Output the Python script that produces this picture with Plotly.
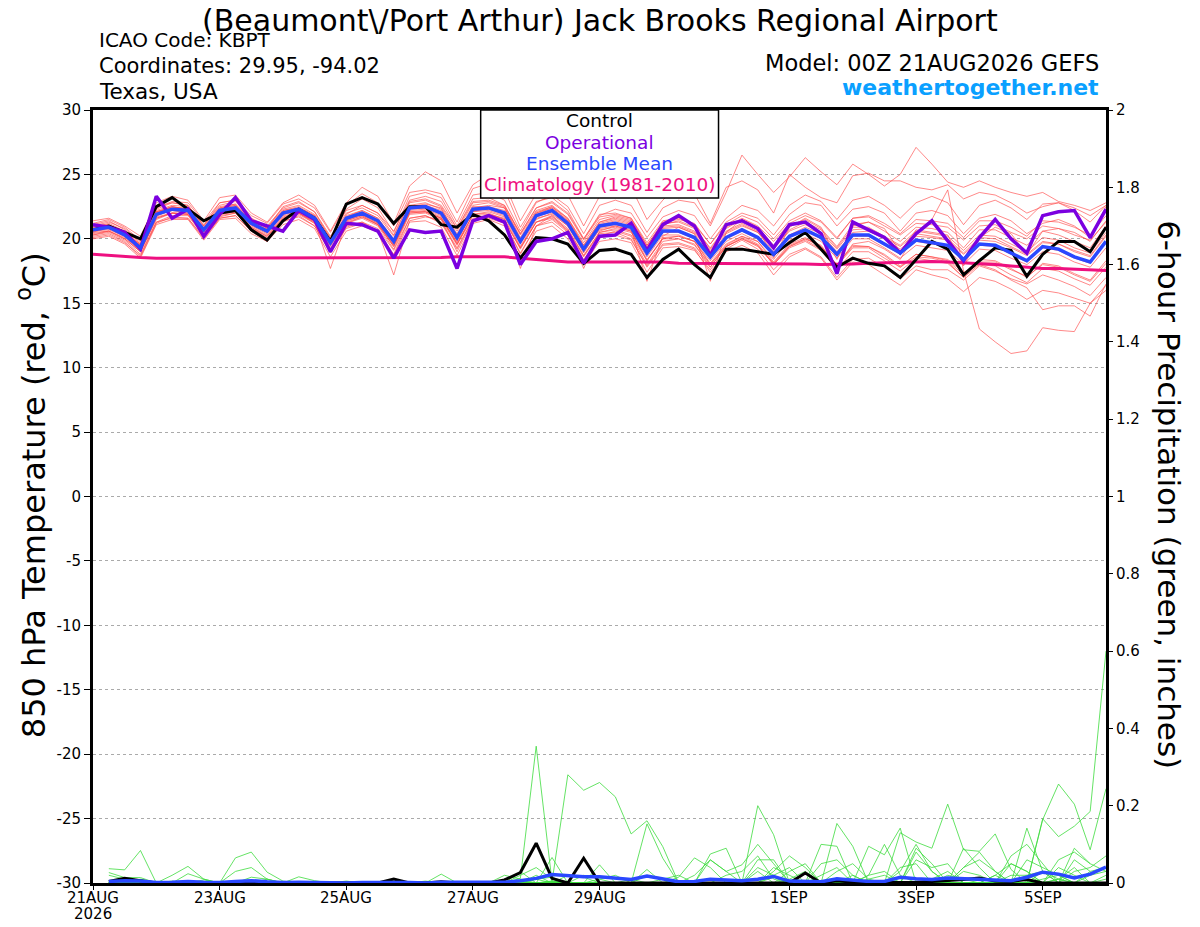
import pandas as pd
import plotly.graph_objects as go

# 6-hourly GEFS steps, 21 Aug 00Z -> 6 Sep 00Z
times = pd.date_range("2026-08-21 00:00", periods=65, freq="6h")

# 850 hPa temperature (C)
control_t = [20.7, 21.0, 20.5, 20.0, 22.5, 23.2, 22.3, 21.4, 22.0, 22.2, 20.7, 19.9, 21.4, 22.3, 21.6, 19.8, 22.7, 23.2, 22.7, 21.2, 22.5, 22.5,
             21.1, 20.9, 21.9, 21.4, 20.3, 18.5, 20.1, 20.0, 19.6, 18.1, 19.1, 19.2, 18.8, 17.0, 18.4, 19.2, 18.0, 17.0, 19.2, 19.2, 19.0, 18.8,
             19.7, 20.5, 19.2, 17.8, 18.5, 18.1, 17.9, 17.0, 18.4, 19.8, 19.2, 17.2, 18.3, 19.3, 19.1, 17.1, 18.8, 19.8, 19.8, 19.0, 20.9]
oper_t = [21.1, 20.9, 20.5, 19.2, 23.3, 21.6, 22.3, 20.2, 21.9, 23.2, 21.4, 21.0, 20.6, 22.2, 21.5, 19.0, 21.2, 21.1, 20.6, 18.5, 20.7, 20.5,
          20.6, 17.7, 21.4, 21.8, 21.3, 18.0, 19.8, 20.0, 20.5, 18.1, 20.2, 20.3, 21.2, 19.1, 21.1, 21.8, 21.0, 18.7, 21.1, 21.4, 20.8, 19.3,
          21.1, 21.3, 20.4, 17.3, 21.3, 20.7, 20.1, 18.9, 20.4, 21.4, 19.8, 18.3, 20.1, 21.5, 20.0, 18.9, 21.8, 22.1, 22.2, 20.1, 22.3]
mean_t = [20.7, 20.9, 20.3, 19.3, 21.9, 22.3, 22.2, 20.7, 22.2, 22.4, 21.2, 20.6, 22.0, 22.3, 21.6, 19.7, 21.6, 22.0, 21.4, 19.8, 22.4, 22.5,
          22.0, 20.1, 22.3, 22.4, 22.0, 19.8, 21.8, 22.2, 21.2, 19.2, 21.0, 21.2, 20.9, 18.9, 20.6, 20.6, 20.1, 18.6, 20.1, 20.7, 20.1, 18.8,
          20.2, 20.7, 20.1, 18.8, 20.3, 20.3, 19.6, 18.9, 19.9, 19.7, 19.5, 18.4, 19.6, 19.5, 18.9, 18.3, 19.4, 19.2, 18.6, 18.2, 19.8]
clim_t = [18.8, 18.7, 18.6, 18.55, 18.5, 18.5, 18.5, 18.5, 18.5, 18.5, 18.5, 18.5, 18.5, 18.5, 18.5, 18.5, 18.5, 18.5, 18.5, 18.5, 18.5, 18.5,
          18.55, 18.6, 18.6, 18.6, 18.6, 18.5, 18.4, 18.3, 18.2, 18.2, 18.2, 18.2, 18.2, 18.2, 18.2, 18.1, 18.1, 18.1, 18.1, 18.1, 18.1, 18.1,
          18.1, 18.05, 18.0, 18.0, 18.05, 18.1, 18.15, 18.2, 18.25, 18.25, 18.2, 18.15, 18.05, 18.0, 17.9, 17.8, 17.7, 17.7, 17.65, 17.6, 17.55]

members_t = [
    [21.0, 21.3, 20.8, 19.8, 22.5, 22.8, 22.6, 21.0, 22.8, 23.0, 21.6, 20.8, 22.5, 22.9, 22.1, 20.0, 22.3, 23.1, 22.4, 20.5, 23.3, 23.6,
     23.2, 21.0, 23.4, 23.6, 23.0, 20.6, 22.8, 23.4, 22.5, 20.4, 22.6, 23.0, 22.6, 20.5, 22.4, 23.0, 22.8, 21.0, 23.6, 26.5, 25.0, 23.6,
     24.8, 26.3, 25.2, 24.2, 25.8, 25.0, 24.1, 25.0, 27.1, 25.8, 24.4, 24.0, 24.5, 24.0, 23.6, 23.3, 23.6, 22.9, 22.6, 22.2, 22.8],
    [21.4, 21.6, 21.0, 20.2, 22.8, 23.3, 23.0, 21.4, 23.2, 23.4, 22.0, 21.3, 22.8, 23.4, 22.6, 20.6, 22.8, 24.0, 23.3, 21.2, 24.1, 25.2,
     24.5, 22.0, 24.2, 25.0, 24.3, 21.4, 23.5, 24.6, 23.4, 21.0, 23.3, 24.5, 24.0, 21.5, 23.0, 24.2, 23.5, 21.2, 24.0, 24.5, 23.8, 22.0,
     25.0, 24.0, 23.2, 22.8, 24.9, 25.1, 24.5, 24.5, 24.0, 23.8, 24.2, 23.1, 23.6, 23.4, 22.8, 22.0, 22.5, 22.8, 22.4, 21.8, 22.6],
    [20.2, 20.4, 19.8, 18.6, 21.2, 21.7, 21.6, 20.0, 21.6, 21.8, 20.6, 19.8, 21.3, 21.8, 21.0, 18.9, 21.0, 21.3, 20.6, 18.8, 21.6, 21.8,
     21.2, 19.2, 21.5, 21.8, 21.2, 18.8, 21.0, 21.5, 20.5, 18.3, 20.2, 20.6, 20.2, 18.0, 19.8, 20.0, 19.6, 17.8, 19.4, 20.0, 19.5, 18.0,
     19.4, 20.0, 19.5, 17.9, 19.6, 19.8, 19.2, 18.4, 20.5, 21.5, 23.8, 17.5, 13.0, 12.0, 11.1, 11.3, 13.1, 12.9, 12.8, 15.0, 16.0],
    [20.5, 20.6, 20.0, 19.0, 21.5, 22.0, 21.9, 20.3, 21.9, 22.1, 20.9, 20.2, 21.6, 22.0, 21.2, 19.2, 21.2, 21.6, 21.0, 19.2, 21.9, 22.0,
     21.5, 19.5, 21.9, 22.0, 21.5, 19.2, 21.3, 21.8, 20.8, 18.7, 20.5, 20.8, 20.5, 18.4, 20.0, 20.2, 19.8, 18.1, 19.6, 20.2, 19.8, 18.2,
     19.6, 20.1, 19.4, 18.0, 19.5, 19.4, 18.8, 17.9, 18.8, 18.6, 18.4, 17.4, 18.0, 17.6, 16.8, 16.2, 14.5, 14.8, 14.8, 14.0, 16.5],
    [20.9, 21.2, 20.6, 19.6, 22.2, 22.6, 22.5, 21.0, 22.5, 22.7, 21.5, 20.9, 22.3, 22.6, 21.9, 20.1, 22.0, 22.4, 21.8, 20.2, 22.8, 23.0,
     22.5, 20.6, 22.8, 22.9, 22.5, 20.3, 22.2, 22.6, 21.6, 19.7, 21.5, 21.8, 21.5, 19.5, 21.2, 21.3, 20.8, 19.3, 20.9, 21.6, 21.0, 19.8,
     21.2, 21.8, 21.3, 20.0, 21.6, 21.8, 21.2, 20.4, 21.5, 21.4, 21.2, 20.1, 21.4, 21.4, 20.9, 20.2, 21.4, 21.3, 20.9, 20.3, 21.8],
    [20.4, 20.6, 20.1, 19.1, 21.6, 22.0, 21.9, 20.4, 21.9, 22.1, 20.9, 20.3, 21.7, 22.0, 21.3, 19.4, 21.3, 21.7, 21.1, 19.5, 22.0, 22.1,
     21.6, 19.7, 21.8, 21.9, 21.5, 19.3, 21.3, 21.7, 20.7, 18.7, 20.5, 20.7, 20.3, 18.3, 20.0, 20.0, 19.5, 18.0, 19.4, 20.0, 19.4, 18.1,
     19.4, 19.9, 19.2, 17.9, 19.3, 19.3, 18.5, 17.8, 18.8, 18.6, 18.3, 17.2, 18.4, 18.3, 17.7, 17.0, 18.1, 17.9, 17.3, 16.8, 18.3],
    [20.8, 21.0, 20.4, 19.4, 22.0, 22.4, 22.4, 20.9, 22.4, 22.6, 21.4, 20.8, 22.2, 22.5, 21.8, 19.9, 21.8, 22.2, 21.6, 20.0, 22.6, 22.8,
     22.3, 20.4, 22.6, 22.8, 22.4, 20.1, 22.1, 22.5, 21.5, 19.5, 21.3, 21.6, 21.3, 19.3, 21.0, 21.1, 20.6, 19.1, 20.6, 21.2, 20.6, 19.3,
     20.7, 21.3, 20.7, 19.3, 20.9, 20.9, 20.2, 19.5, 20.6, 20.4, 20.2, 19.1, 20.3, 20.2, 19.6, 19.0, 20.1, 19.9, 19.3, 18.9, 20.5],
    [20.6, 20.8, 20.2, 19.2, 21.8, 22.2, 22.1, 20.6, 22.1, 22.3, 21.1, 20.5, 21.9, 22.2, 21.5, 19.6, 21.5, 21.9, 21.3, 19.7, 22.3, 22.4,
     21.9, 20.0, 22.2, 22.3, 21.9, 19.7, 21.7, 22.1, 21.1, 19.1, 20.9, 21.1, 20.8, 18.8, 20.5, 20.5, 20.0, 18.5, 20.0, 20.6, 20.0, 18.7,
     20.1, 20.6, 20.0, 18.7, 20.2, 20.2, 19.5, 18.8, 19.8, 19.6, 19.4, 18.3, 19.5, 19.4, 18.8, 18.2, 19.3, 19.1, 18.5, 18.1, 19.7],
    [20.3, 20.5, 19.9, 18.8, 21.3, 21.8, 21.8, 20.2, 21.7, 22.0, 20.8, 20.1, 21.5, 21.9, 21.2, 19.0, 20.8, 21.2, 20.6, 17.2, 21.4, 21.7,
     21.5, 19.0, 21.4, 21.9, 21.6, 17.7, 21.0, 21.8, 20.6, 17.7, 20.6, 21.0, 20.7, 16.7, 20.2, 20.9, 20.4, 16.7, 20.5, 21.5, 20.8, 18.5,
     20.9, 21.6, 20.9, 18.4, 21.0, 21.3, 20.8, 19.0, 20.7, 20.5, 20.3, 17.9, 20.1, 20.9, 20.4, 18.8, 20.6, 20.8, 20.5, 19.8, 21.4],
    [21.2, 21.5, 20.9, 19.9, 22.4, 22.9, 22.8, 21.3, 22.8, 23.0, 21.8, 21.2, 22.7, 23.1, 22.4, 20.5, 22.6, 23.5, 22.8, 21.0, 23.6, 23.8,
     23.5, 21.3, 23.9, 24.3, 23.8, 20.9, 22.9, 23.2, 22.2, 20.0, 21.9, 22.0, 21.6, 19.5, 21.3, 21.5, 21.2, 19.6, 21.3, 22.0, 21.6, 20.3,
     21.9, 22.8, 22.6, 21.0, 22.3, 22.5, 22.0, 20.6, 22.0, 22.2, 21.8, 20.4, 21.6, 21.9, 21.4, 20.4, 21.2, 21.5, 21.0, 20.1, 22.5],
    [20.0, 20.2, 19.6, 18.5, 21.1, 21.5, 21.5, 19.9, 21.5, 21.6, 20.4, 19.8, 21.1, 21.5, 20.8, 18.6, 20.6, 21.0, 20.5, 18.7, 21.3, 21.4,
     20.9, 18.7, 21.2, 21.5, 21.0, 18.5, 20.6, 21.0, 20.0, 18.0, 19.8, 20.0, 19.7, 17.4, 19.3, 19.4, 19.1, 17.6, 19.2, 19.9, 19.2, 17.6,
     18.8, 19.3, 18.6, 17.0, 18.4, 18.5, 17.8, 16.9, 17.9, 17.6, 17.6, 16.8, 17.9, 17.5, 16.9, 16.5, 17.2, 16.8, 16.3, 15.6, 17.0],
    [20.9, 21.1, 20.5, 19.5, 22.1, 22.5, 22.3, 20.8, 22.4, 22.7, 21.3, 20.7, 22.1, 22.4, 21.7, 19.8, 21.9, 22.6, 22.0, 20.6, 23.0, 23.3,
     22.9, 20.8, 23.1, 23.2, 22.6, 20.4, 22.4, 22.9, 22.0, 20.0, 21.8, 22.3, 22.0, 20.1, 21.7, 22.2, 21.8, 20.0, 21.6, 22.6, 22.2, 21.0,
     22.6, 23.4, 22.9, 21.5, 23.0, 23.3, 22.6, 21.6, 22.8, 23.3, 22.8, 21.1, 22.6, 23.0, 22.4, 21.5, 22.7, 22.8, 22.2, 21.3, 22.6],
    [20.6, 20.7, 20.2, 19.0, 21.7, 22.0, 22.0, 20.5, 22.0, 22.1, 21.0, 20.4, 21.8, 22.0, 21.4, 19.5, 21.4, 21.8, 21.2, 19.5, 22.1, 22.1,
     21.6, 19.6, 21.9, 22.1, 21.7, 19.4, 21.5, 22.0, 21.0, 18.9, 20.8, 21.0, 20.6, 18.3, 20.1, 20.2, 19.8, 18.0, 19.5, 20.2, 19.6, 18.1,
     19.5, 20.0, 19.4, 18.0, 19.4, 19.4, 18.7, 17.8, 18.6, 18.5, 18.2, 17.0, 18.0, 17.9, 17.2, 16.6, 17.7, 17.5, 16.9, 16.4, 17.8],
    [21.0, 21.1, 20.4, 19.6, 22.1, 22.4, 22.3, 20.8, 22.3, 22.5, 21.4, 20.7, 22.2, 22.4, 21.7, 19.8, 21.7, 22.1, 21.5, 19.9, 22.5, 22.6,
     22.2, 20.3, 22.5, 22.5, 22.2, 19.9, 22.0, 22.4, 21.4, 19.4, 21.2, 21.5, 21.2, 19.2, 20.9, 21.0, 20.5, 19.0, 20.5, 21.1, 20.5, 19.2,
     20.6, 21.1, 20.5, 19.2, 20.7, 20.8, 20.1, 19.4, 20.4, 20.2, 20.0, 18.9, 20.1, 20.0, 19.4, 18.8, 19.8, 19.6, 19.0, 18.6, 20.2],
    [20.5, 20.9, 20.3, 19.2, 22.0, 22.5, 22.2, 20.6, 22.3, 22.6, 21.3, 20.6, 22.0, 22.4, 21.8, 19.8, 21.7, 22.2, 21.6, 19.9, 22.5, 22.7,
     22.4, 20.2, 22.4, 22.6, 22.4, 20.0, 22.0, 22.5, 21.6, 19.5, 21.3, 21.7, 21.4, 19.4, 21.1, 21.4, 20.9, 19.2, 20.8, 21.5, 20.9, 19.5,
     21.0, 21.5, 20.8, 19.4, 21.1, 21.3, 20.6, 19.8, 20.9, 20.8, 20.5, 19.3, 20.7, 20.7, 20.1, 19.5, 20.6, 20.3, 19.8, 19.3, 21.0],
    [20.3, 20.6, 20.0, 19.0, 21.6, 22.0, 21.9, 20.3, 21.8, 22.0, 20.8, 20.2, 21.6, 22.0, 21.3, 17.7, 21.2, 21.7, 21.1, 19.4, 22.1, 22.2,
     21.7, 19.6, 21.6, 21.7, 21.3, 19.3, 21.3, 21.6, 20.6, 18.6, 20.4, 20.5, 20.0, 17.8, 19.5, 19.6, 19.2, 17.4, 19.0, 19.5, 18.9, 17.2,
     18.6, 19.2, 18.5, 16.8, 18.2, 18.0, 17.2, 16.4, 17.6, 17.2, 16.9, 15.9, 17.0, 16.7, 16.1, 15.3, 16.0, 15.8, 15.4, 15.0, 16.4],
    [21.1, 21.4, 20.7, 19.7, 22.3, 22.8, 22.6, 21.1, 22.6, 22.9, 21.6, 21.0, 22.4, 22.8, 22.1, 20.2, 22.2, 22.6, 22.0, 20.3, 22.9, 23.1,
     22.6, 20.8, 22.9, 23.0, 22.6, 20.4, 22.4, 22.8, 21.9, 19.9, 21.7, 21.9, 21.6, 19.7, 21.4, 21.6, 21.1, 19.6, 21.1, 21.8, 21.3, 20.0,
     21.4, 22.0, 21.4, 20.1, 21.6, 21.7, 21.0, 20.3, 21.2, 21.1, 20.9, 19.9, 21.0, 21.1, 20.5, 20.0, 21.0, 20.8, 20.3, 19.9, 21.3],
    [20.1, 20.3, 19.7, 18.7, 21.3, 21.6, 21.6, 20.1, 21.6, 21.8, 20.6, 20.0, 21.4, 21.7, 21.0, 19.0, 20.9, 21.3, 20.8, 19.1, 21.6, 21.8,
     21.3, 19.3, 21.5, 21.6, 21.2, 18.9, 21.0, 21.3, 20.3, 18.4, 20.1, 20.3, 19.9, 17.9, 19.6, 19.7, 19.3, 17.8, 19.4, 20.1, 19.5, 18.0,
     19.3, 19.8, 19.1, 17.6, 19.0, 19.0, 18.3, 17.5, 18.5, 18.3, 18.1, 17.0, 18.2, 18.2, 17.6, 17.1, 18.0, 17.8, 17.2, 16.7, 18.1],
    [20.8, 21.0, 20.5, 19.5, 22.1, 22.5, 22.3, 20.7, 22.3, 22.4, 21.1, 20.5, 22.0, 22.2, 21.5, 19.6, 21.4, 21.8, 21.1, 19.4, 22.0, 22.1,
     21.6, 19.8, 22.1, 22.4, 22.1, 19.7, 21.9, 22.4, 21.4, 19.2, 21.1, 21.4, 21.1, 19.0, 20.8, 20.9, 20.4, 18.7, 20.4, 21.0, 20.5, 19.0,
     20.3, 20.9, 20.4, 19.0, 20.5, 20.6, 20.0, 19.2, 20.2, 20.1, 19.9, 18.8, 19.9, 19.8, 19.3, 18.7, 19.7, 19.6, 19.1, 18.7, 20.3],
    [20.6, 21.0, 20.4, 19.3, 21.8, 22.2, 22.0, 20.5, 22.0, 22.3, 21.1, 20.5, 21.9, 22.1, 21.4, 19.5, 21.5, 21.9, 21.2, 19.6, 22.2, 22.3,
     21.8, 19.9, 22.1, 22.2, 21.8, 19.6, 21.6, 21.9, 21.0, 19.0, 20.7, 20.9, 20.6, 18.6, 20.3, 20.3, 19.8, 18.3, 19.8, 20.4, 19.8, 18.4,
     19.9, 20.4, 19.8, 18.5, 20.0, 20.0, 19.3, 18.5, 19.5, 19.3, 19.1, 18.0, 19.2, 19.1, 18.5, 18.0, 19.0, 18.8, 18.2, 17.8, 19.3],
]

# 6-hour precipitation (inches), steps 21 Aug 06Z -> 6 Sep 00Z
control_p = [0.004, 0.012, 0.006, 0, 0, 0, 0, 0, 0, 0, 0, 0, 0, 0, 0, 0, 0, 0, 0.01, 0, 0, 0.003, 0, 0, 0, 0.008, 0.027, 0.103, 0.012, 0, 0.064, 0,
             0, 0, 0, 0, 0, 0, 0, 0, 0, 0, 0, 0, 0.026, 0, 0.006, 0.002, 0.001, 0.001, 0.002, 0.002, 0.004, 0.006, 0.009, 0.013, 0.005, 0.004, 0.009, 0, 0, 0, 0, 0]
mean_p = [0.004, 0.006, 0.005, 0.001, 0.002, 0.004, 0.002, 0.001, 0.004, 0.006, 0.003, 0.001, 0.002, 0.001, 0, 0, 0.001, 0, 0.001, 0.001, 0, 0.002, 0.002, 0.001, 0, 0.002, 0.006, 0.012, 0.022, 0.018, 0.016, 0.016,
          0.013, 0.009, 0.018, 0.01, 0.003, 0.004, 0.01, 0.008, 0.006, 0.01, 0.017, 0.005, 0.004, 0.003, 0.011, 0.007, 0.004, 0.004, 0.015, 0.011, 0.009, 0.013, 0.011, 0.009, 0.006, 0.006, 0.015, 0.028, 0.023, 0.013, 0.023, 0.041]

members_p = [
    [0.037, 0.034, 0.084, 0, 0, 0, 0, 0, 0, 0, 0, 0, 0, 0, 0, 0, 0, 0, 0, 0, 0, 0, 0, 0, 0, 0, 0, 0, 0.005, 0, 0, 0,
     0, 0, 0, 0, 0, 0, 0, 0, 0, 0.06, 0.06, 0, 0, 0.10, 0.095, 0, 0, 0, 0, 0, 0, 0, 0, 0, 0, 0, 0.142, 0.03, 0, 0, 0],
    [0.027, 0.014, 0.014, 0, 0, 0, 0, 0, 0, 0, 0, 0, 0, 0, 0, 0, 0, 0, 0, 0, 0, 0, 0, 0, 0, 0, 0.012, 0.354, 0.003, 0, 0, 0,
     0, 0, 0, 0, 0, 0, 0, 0, 0, 0, 0, 0, 0, 0, 0, 0, 0, 0, 0.13, 0.106, 0.09, 0.204, 0.086, 0.082, 0.127, 0.035, 0, 0, 0, 0, 0, 0],
    [0, 0, 0, 0, 0.02, 0.043, 0.01, 0, 0, 0, 0, 0, 0, 0, 0, 0, 0, 0, 0, 0, 0, 0, 0, 0, 0, 0, 0, 0, 0.003, 0.28, 0.24, 0.26,
     0.223, 0.127, 0.161, 0.094, 0, 0, 0, 0, 0, 0, 0, 0, 0, 0, 0, 0, 0, 0, 0, 0, 0, 0, 0, 0, 0, 0, 0, 0.164, 0.256, 0.204, 0.086, 0.244, 0.172],
    [0, 0, 0, 0, 0, 0.024, 0.01, 0, 0.065, 0.08, 0.028, 0.005, 0, 0, 0, 0, 0, 0, 0, 0, 0, 0, 0, 0, 0, 0, 0, 0, 0, 0, 0, 0,
     0, 0, 0.153, 0.064, 0, 0, 0, 0, 0, 0, 0, 0, 0, 0, 0, 0, 0, 0, 0, 0, 0, 0, 0, 0, 0, 0, 0, 0.166, 0.12, 0.147, 0.185, 0.60],
    [0, 0, 0, 0, 0, 0, 0, 0, 0, 0, 0, 0, 0.016, 0.006, 0, 0, 0, 0, 0, 0, 0, 0, 0, 0, 0, 0, 0, 0, 0.066, 0, 0, 0.047,
     0, 0, 0, 0, 0, 0, 0.075, 0.09, 0, 0, 0, 0, 0, 0, 0, 0, 0.095, 0.073, 0.142, 0, 0, 0, 0, 0, 0, 0, 0, 0, 0, 0, 0, 0],
    [0, 0, 0, 0, 0, 0, 0, 0, 0, 0, 0, 0, 0, 0, 0, 0, 0, 0, 0, 0, 0, 0.023, 0, 0, 0, 0, 0.03, 0, 0, 0, 0, 0,
     0, 0, 0, 0, 0, 0, 0, 0, 0, 0.2, 0.125, 0, 0, 0, 0.154, 0.095, 0, 0, 0, 0, 0, 0, 0, 0, 0, 0, 0, 0, 0, 0, 0, 0],
    [0, 0, 0, 0, 0, 0, 0, 0, 0.03, 0.04, 0.01, 0, 0, 0, 0, 0, 0, 0, 0, 0, 0, 0, 0, 0, 0, 0, 0, 0, 0, 0, 0, 0,
     0, 0, 0.035, 0, 0, 0, 0.06, 0.03, 0.047, 0.1, 0.05, 0, 0, 0, 0, 0, 0, 0, 0, 0, 0, 0, 0.04, 0.06, 0.03, 0, 0, 0, 0, 0, 0, 0],
    [0, 0, 0.01, 0, 0, 0, 0, 0, 0, 0, 0, 0, 0, 0, 0, 0, 0, 0, 0, 0, 0, 0, 0, 0, 0, 0.01, 0, 0, 0, 0.02, 0.015, 0,
     0, 0, 0, 0, 0, 0, 0, 0, 0, 0, 0.04, 0.02, 0, 0, 0, 0, 0, 0, 0, 0.09, 0.05, 0, 0, 0, 0, 0.05, 0.03, 0, 0, 0.03, 0.04, 0.07],
    [0, 0, 0, 0, 0, 0, 0, 0, 0, 0, 0, 0, 0, 0, 0, 0, 0, 0, 0.005, 0, 0, 0, 0.004, 0, 0, 0, 0, 0, 0, 0, 0, 0,
     0, 0, 0, 0, 0.015, 0.065, 0.04, 0, 0, 0, 0, 0.03, 0.05, 0, 0, 0, 0, 0, 0, 0.06, 0.04, 0.05, 0, 0, 0, 0, 0, 0, 0, 0.06, 0.03],
    [0, 0, 0, 0, 0, 0, 0.008, 0, 0, 0, 0, 0, 0, 0, 0, 0, 0, 0, 0, 0, 0, 0, 0, 0, 0, 0, 0.02, 0.04, 0.01, 0, 0, 0,
     0, 0, 0, 0, 0, 0, 0, 0, 0, 0, 0.03, 0.07, 0.04, 0, 0, 0, 0.02, 0.10, 0.02, 0, 0, 0, 0, 0, 0, 0, 0.06, 0.04, 0.02, 0, 0],
    [0, 0, 0, 0, 0, 0, 0, 0, 0, 0, 0.01, 0, 0, 0, 0, 0, 0, 0, 0, 0, 0, 0, 0, 0, 0, 0, 0, 0, 0, 0, 0, 0.01,
     0.02, 0, 0, 0, 0, 0, 0, 0, 0, 0.03, 0, 0, 0, 0.05, 0.06, 0.02, 0, 0, 0, 0, 0, 0, 0.09, 0.04, 0, 0.07, 0.10, 0.05, 0, 0, 0],
    [0, 0.005, 0, 0, 0, 0, 0, 0, 0, 0, 0, 0, 0, 0, 0, 0.005, 0, 0, 0, 0, 0, 0, 0, 0, 0, 0, 0, 0.02, 0, 0, 0, 0,
     0, 0, 0, 0, 0, 0, 0, 0.02, 0.03, 0.07, 0.01, 0, 0, 0, 0, 0, 0, 0, 0, 0.08, 0.03, 0, 0, 0, 0.02, 0, 0, 0, 0.04, 0.02, 0],
    [0, 0, 0, 0, 0, 0, 0, 0, 0, 0, 0, 0, 0, 0, 0, 0, 0, 0, 0, 0, 0, 0, 0, 0, 0, 0, 0, 0, 0.005, 0, 0, 0,
     0, 0, 0.02, 0.01, 0, 0, 0, 0, 0, 0, 0.02, 0.04, 0, 0, 0.03, 0.05, 0.01, 0, 0, 0, 0, 0, 0.04, 0.08, 0.03, 0, 0, 0, 0, 0.09, 0.05],
    [0, 0, 0, 0, 0.005, 0, 0, 0, 0, 0, 0, 0, 0, 0, 0, 0, 0, 0, 0, 0, 0, 0, 0, 0, 0, 0.02, 0.01, 0, 0, 0, 0, 0,
     0, 0, 0, 0, 0, 0.02, 0.06, 0.03, 0, 0, 0, 0, 0, 0, 0, 0, 0, 0, 0.03, 0.1, 0.03, 0, 0, 0, 0, 0, 0.02, 0.03, 0, 0, 0, 0],
    [0, 0, 0, 0, 0, 0, 0, 0, 0, 0, 0, 0, 0, 0, 0, 0, 0, 0, 0, 0, 0, 0, 0, 0, 0, 0, 0, 0, 0, 0, 0, 0,
     0, 0, 0, 0, 0, 0, 0, 0, 0, 0, 0, 0, 0, 0.02, 0.04, 0, 0, 0, 0.04, 0.05, 0, 0, 0.03, 0.02, 0, 0, 0, 0, 0.06, 0.08, 0.05, 0.03],
    [0, 0, 0, 0, 0, 0, 0, 0, 0, 0, 0, 0, 0, 0, 0, 0, 0, 0, 0, 0, 0.005, 0, 0, 0, 0, 0, 0, 0, 0, 0, 0, 0,
     0, 0.01, 0, 0, 0, 0, 0, 0, 0, 0.04, 0.02, 0, 0, 0, 0, 0, 0.02, 0.03, 0, 0, 0, 0, 0, 0, 0.02, 0.05, 0.03, 0, 0, 0, 0, 0],
    [0.02, 0.01, 0, 0, 0, 0, 0, 0, 0, 0, 0, 0, 0, 0, 0, 0, 0, 0, 0, 0, 0, 0, 0, 0, 0, 0, 0, 0, 0, 0, 0, 0,
     0, 0, 0, 0.01, 0.02, 0, 0, 0, 0, 0, 0, 0.01, 0.03, 0, 0, 0, 0, 0, 0, 0, 0, 0.02, 0.01, 0, 0, 0, 0, 0, 0.01, 0.04, 0, 0.02],
    [0, 0, 0, 0, 0, 0, 0, 0, 0, 0, 0, 0, 0, 0, 0, 0, 0, 0, 0, 0, 0, 0, 0, 0, 0, 0, 0, 0.01, 0.015, 0, 0, 0,
     0, 0, 0, 0, 0, 0, 0, 0, 0, 0, 0.015, 0, 0, 0, 0, 0.02, 0, 0, 0, 0, 0.01, 0.03, 0, 0, 0, 0, 0, 0.03, 0.01, 0, 0, 0.01],
    [0, 0, 0, 0, 0, 0, 0, 0, 0, 0.015, 0.01, 0, 0, 0, 0, 0, 0, 0, 0, 0, 0, 0, 0, 0, 0, 0, 0, 0, 0, 0, 0.02, 0.01,
     0, 0, 0, 0, 0, 0, 0, 0, 0, 0, 0, 0, 0, 0, 0, 0, 0.01, 0.02, 0, 0, 0, 0, 0, 0, 0, 0.02, 0.02, 0, 0.01, 0, 0.03, 0.04],
    [0, 0, 0, 0, 0, 0, 0, 0, 0, 0, 0, 0, 0, 0, 0, 0, 0, 0, 0, 0, 0, 0, 0, 0, 0, 0, 0, 0.01, 0, 0, 0, 0,
     0, 0, 0, 0, 0, 0, 0, 0, 0, 0, 0, 0, 0, 0, 0, 0, 0, 0, 0, 0, 0, 0, 0, 0, 0, 0, 0, 0.01, 0.02, 0, 0.02, 0.03],
]

tick_dates = ["2026-08-21", "2026-08-23", "2026-08-25", "2026-08-27", "2026-08-29", "2026-09-01", "2026-09-03", "2026-09-05"]
tick_text = ["21AUG", "23AUG", "25AUG", "27AUG", "29AUG", "1SEP", "3SEP", "5SEP"]
temp_ticks = [-30, -25, -20, -15, -10, -5, 0, 5, 10, 15, 20, 25, 30]
temp_tick_text = ["-30", "-25", "-20", "-15", "-10", "-5", "0", "5", "10", "15", "20", "25", "30"]

FONT = "DejaVu Sans"
RED = "rgba(255,70,70,0.8)"
GREEN = "#3ddc3d"
PURPLE = "#7b00e0"
BLUE = "#2a48ff"
PINK = "#ee1080"

fig = go.Figure()

for m in members_t:
    fig.add_trace(go.Scatter(x=times, y=m, mode="lines", line=dict(color=RED, width=0.8),
                             hoverinfo="skip", showlegend=False))
for m in members_p:
    fig.add_trace(go.Scatter(x=times[1:], y=m, mode="lines", line=dict(color=GREEN, width=0.8),
                             yaxis="y2", hoverinfo="skip", showlegend=False))

# precip control + mean
fig.add_trace(go.Scatter(x=times[1:], y=control_p, mode="lines", line=dict(color="black", width=3), yaxis="y2", showlegend=False))
fig.add_trace(go.Scatter(x=times[1:], y=mean_p, mode="lines", line=dict(color=BLUE, width=3.5), yaxis="y2", showlegend=False))

# temperature heavy lines
fig.add_trace(go.Scatter(x=times, y=clim_t, mode="lines", line=dict(color=PINK, width=3), showlegend=False))
fig.add_trace(go.Scatter(x=times, y=control_t, mode="lines", line=dict(color="black", width=3), showlegend=False))
fig.add_trace(go.Scatter(x=times, y=oper_t, mode="lines", line=dict(color=PURPLE, width=3.5), showlegend=False))
fig.add_trace(go.Scatter(x=times, y=mean_t, mode="lines", line=dict(color=BLUE, width=3.5), showlegend=False))

# page body adds an 8px offset, so the figure is drawn 8px smaller
fig.update_layout(
    width=1192, height=919,
    margin=dict(l=85, r=94, t=102, b=44),
    paper_bgcolor="white", plot_bgcolor="white",
    font=dict(family=FONT, color="black", size=15),
    xaxis=dict(range=[times[0], times[-1]], tickvals=tick_dates, showticklabels=False, automargin=False,
               showgrid=False, zeroline=False, showline=True, linewidth=3, linecolor="black", mirror=True,
               ticks="outside", ticklen=4, tickcolor="black"),
    yaxis=dict(range=[-30, 30], tickvals=temp_ticks, ticktext=temp_tick_text, showgrid=True, gridcolor="#aaaaaa",
               griddash="dot", gridwidth=1,
               zeroline=False, showline=True, linewidth=3, linecolor="black", mirror=True, automargin=False,
               ticks="outside", ticklen=6, tickcolor="black", tickfont=dict(size=15)),
    yaxis2=dict(range=[0, 2], dtick=0.2, overlaying="y", side="right", showgrid=False, zeroline=False, automargin=False,
                showline=False, ticks="outside", ticklen=6, tickcolor="black", tickfont=dict(size=15)),
)

# date labels under the axis
for d, t in zip(tick_dates, tick_text):
    fig.add_annotation(text=t, x=d, xref="x", yref="paper", y=-0.0195, xanchor="center", yanchor="middle",
                       showarrow=False, font=dict(size=15))
fig.add_annotation(text="2026", x=tick_dates[0], xref="x", yref="paper", y=-0.0405, xanchor="center", yanchor="middle",
                   showarrow=False, font=dict(size=15))

fig.add_annotation(text="(Beaumont\\/Port Arthur) Jack Brooks Regional Airport", xref="paper", yref="paper",
                   x=0.5, y=1.141, xanchor="center", yanchor="top", showarrow=False, font=dict(size=30))
info = [("ICAO Code: KBPT", 1.0906, 20), ("Coordinates: 29.95, -94.02", 1.0569, 21), ("Texas, USA", 1.0233, 21.5)]
for txt, yy, sz in info:
    fig.add_annotation(text=txt, xref="paper", yref="paper", x=0.004, y=yy, xanchor="left", yanchor="middle",
                       showarrow=False, font=dict(size=sz))
fig.add_annotation(text="Model: 00Z 21AUG2026 GEFS", xref="paper", yref="paper", x=0.9953, y=1.0608,
                   xanchor="right", yanchor="middle", showarrow=False, font=dict(size=22.5))
fig.add_annotation(text="<b>weathertogether.net</b>", xref="paper", yref="paper", x=0.9953, y=1.0285,
                   xanchor="right", yanchor="middle", showarrow=False, font=dict(size=22, color="#0aa0ff"))

fig.add_annotation(text="850 hPa Temperature (red, <sup>o</sup>C)", xref="paper", yref="paper", x=-0.061, y=0.502,
                   textangle=-90, xanchor="center", yanchor="middle", showarrow=False, font=dict(size=32))
fig.add_annotation(text="6-hour Precipitation (green, inches)", xref="paper", yref="paper", x=1.062, y=0.502,
                   textangle=90, xanchor="center", yanchor="middle", showarrow=False, font=dict(size=31))

# legend box
fig.add_shape(type="rect", xref="paper", yref="paper", x0=0.3827, x1=0.6175, y0=0.886, y1=1.0,
              line=dict(color="black", width=1.5), fillcolor="white", layer="above")
legend_items = [("Control", "black"), ("Operational", PURPLE), ("Ensemble Mean", BLUE), ("Climatology (1981-2010)", PINK)]
for (txt, col), yy in zip(legend_items, [0.9858, 0.9586, 0.9314, 0.9030]):
    fig.add_annotation(text=txt, xref="paper", yref="paper", x=0.5, y=yy, xanchor="center", yanchor="middle",
                       showarrow=False, font=dict(size=18.5, color=col))

fig.write_html("out.html")
